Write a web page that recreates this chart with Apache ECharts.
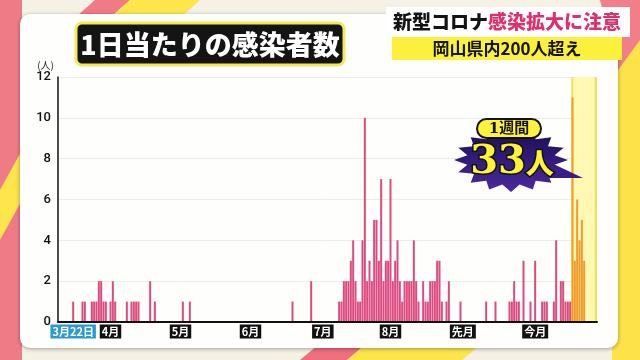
<!DOCTYPE html>
<html><head><meta charset="utf-8">
<script src="https://cdn.jsdelivr.net/npm/echarts@6/dist/echarts.min.js"></script>
<style>html,body{margin:0;padding:0;background:#f5f1e4}#c{width:640px;height:360px}</style>
</head><body><div id="c"></div>
<script>
// ---- data ----
const startYear = 2020, startMonth = 3, startDay = 16;   // first category (axis starts a few days before 3/22)
const dayCounts = [
  0,0,0,0,0,0,1,0,0,0, 1,1,0,0,1,1,1,2,2,1, 1,0,1,2,1,0,0,0,0,1,
  0,1,1,1,1,0,0,0,0,2, 0,1,0,0,0,0,0,0,0,0, 0,0,0,1,0,0,1,0,0,0,
  0,0,0,0,0,0,0,0,0,0, 0,0,0,0,0,0,0,0,0,0, 0,0,0,0,0,0,0,0,0,0,
  0,0,0,0,0,0,0,0,0,0, 1,0,0,0,0,0,0,0,2,0, 0,0,0,0,0,0,0,0,0,0,
  1,1,2,2,2,3,4,2,1,1, 4,10,2,3,2,5,5,3,7,2, 3,3,7,2,3,4,2,1,2,2,
  2,2,4,2,1,0,2,1,1,2, 2,2,3,3,1,0,1,2,0,0, 0,0,1,0,0,0,0,0,0,0,
  0,0,0,1,0,0,0,1,0,0, 0,0,0,1,1,2,1,1,0,3, 0,0,1,0,3,0,0,1,1,1,
  0,0,1,4,0,2,2,1,1,1, 11,3,6,4,5,3,0,0,0,0, 0
];
const weekStart = 220;          // first highlighted (orange) day
const bandStart = 220;          // yellow band start category index
const tickIndex = [6, 22, 52, 82, 113, 142, 173, 204];
const tickLabels = ['3月22日', '4月', '5月', '6月', '7月', '8月', '先月', '今月'];
const yMax = 12, yStep = 2;

// ---- build ----
const categories = dayCounts.map((_, i) => {
  const d = new Date(startYear, startMonth - 1, startDay + i);
  return (d.getMonth() + 1) + '/' + d.getDate();
});
const lastIdx = dayCounts.length - 1;
const barData = dayCounts.map((v, i) => ({
  value: v,
  itemStyle: { color: i >= weekStart ? '#f29a2c' : '#dc4a7e' }
}));
const bandData = dayCounts.map((_, i) => i < bandStart ? '-' : {
  value: yMax,
  itemStyle: { color: (i === bandStart || i === lastIdx) ? '#f3df58' : '#fff8ae' }
});

function starPts(cx, cy, rx, ry, n, inner) {
  const pts = [];
  for (let i = 0; i < n * 2; i++) {
    const a = Math.PI * i / n - Math.PI / 2;
    const f = i % 2 === 0 ? 1 : inner;
    pts.push([cx + Math.cos(a) * rx * f, cy + Math.sin(a) * ry * f]);
  }
  return pts;
}

const chart = echarts.init(document.getElementById('c'), null, { renderer: 'canvas' });
const JP = '"Noto Sans CJK JP", "Noto Sans", sans-serif';
const option = {
  animation: false,
  backgroundColor: '#f5f1e4',
  grid: { left: 58, right: 43, top: 77, bottom: 38 },
  xAxis: [{
    type: 'category',
    data: categories,
    boundaryGap: true,
    axisLine: { lineStyle: { color: '#111', width: 2 } },
    axisTick: { show: false },
    axisLabel: {
      interval: (idx) => tickIndex.indexOf(idx) >= 0,
      margin: 3,
      formatter: (val, idx) => {
        const k = tickIndex.indexOf(idx);
        if (k < 0) return '';
        return k === 0 ? '{d|' + tickLabels[k] + '}' : '{m|' + tickLabels[k] + '}';
      },
      rich: {
        m: { backgroundColor: '#111', color: '#fff', fontWeight: 'bold', fontSize: 11, fontFamily: JP, padding: [2, 2, 1, 2], lineHeight: 13 },
        d: { backgroundColor: '#2b9ad0', color: '#fff', fontWeight: 'bold', fontSize: 11, fontFamily: JP, padding: [2, 2, 1, 2], lineHeight: 13 }
      }
    },
    splitLine: { show: false },
    z: 5
  }, {
    type: 'category', data: categories, boundaryGap: true, show: false
  }],
  yAxis: {
    type: 'value', min: 0, max: yMax, interval: yStep,
    name: '(人)',
    nameLocation: 'end',
    nameGap: 7,
    nameTextStyle: { fontSize: 10, color: '#222', align: 'right', padding: [0, 4, 0, 0], fontFamily: JP },
    axisLine: { show: true, lineStyle: { color: '#111', width: 1.5 } },
    axisTick: { show: false },
    axisLabel: { fontSize: 13, color: '#111', margin: 7, fontFamily: 'Roboto, sans-serif', fontWeight: 500 },
    splitLine: { lineStyle: { color: '#ebebeb', width: 1 } }
  },
  series: [{
    type: 'bar',
    xAxisIndex: 1,
    data: bandData,
    barWidth: '100%',
    silent: true,
    z: 1
  }, {
    type: 'bar',
    xAxisIndex: 0,
    data: barData,
    barWidth: 2,
    z: 3
  }],
  graphic: [
    // outer decorations
    { type: 'polygon', z: -20, shape: { points: [[0,0],[22,0],[22,360],[0,360]] }, style: { fill: '#ef7b87' } },
    { type: 'polygon', z: -19, shape: { points: [[0,190],[22,150],[22,200],[0,240]] }, style: { fill: '#fde54c' } },
    { type: 'polygon', z: -20, shape: { points: [[612,0],[640,0],[640,360],[612,360]] }, style: { fill: '#fde24a' } },
    { type: 'polygon', z: -19, shape: { points: [[600,0],[640,0],[640,40],[618,70]] }, style: { fill: '#f27e8a' } },
    { type: 'polygon', z: -19, shape: { points: [[95,0],[130,0],[112,16],[77,16]] }, style: { fill: '#f07b87' } },
    { type: 'polygon', z: -19, shape: { points: [[130,0],[200,0],[182,16],[112,16]] }, style: { fill: '#fde54c' } },
    { type: 'polygon', z: -19, shape: { points: [[300,360],[318,345],[365,345],[347,360]] }, style: { fill: '#ef6f7f' } },
    { type: 'polygon', z: -19, shape: { points: [[347,360],[365,345],[480,345],[462,360]] }, style: { fill: '#fde54c' } },
    // panel
    { type: 'rect', z: -10, shape: { x: 20, y: 14, width: 598, height: 334, r: 10 },
      style: { fill: '#fefefc', shadowBlur: 4, shadowColor: 'rgba(0,0,0,0.35)', shadowOffsetY: 1 } },
    // title box
    { type: 'rect', z: 50, shape: { x: 76, y: 23, width: 268, height: 42, r: 6 },
      style: { fill: '#141414', stroke: '#f5ea55', lineWidth: 3 } },
    { type: 'text', z: 51, style: { x: 210, y: 45, text: '1日当たりの感染者数', fill: '#fff',
      font: '900 27px ' + JP, align: 'center', verticalAlign: 'middle' } },
    // top-right headline
    { type: 'rect', z: 50, shape: { x: 386, y: 7, width: 244, height: 30 }, style: { fill: '#ffffff' } },
    { type: 'text', z: 51, style: { x: 393, y: 22, text: '{k|新型コロナ}{r|感染拡大に注意}', align: 'left', verticalAlign: 'middle',
      rich: { k: { fill: '#141414', font: '900 19px ' + JP }, r: { fill: '#e0306c', font: '900 19px ' + JP } } } },
    { type: 'rect', z: 50, shape: { x: 392, y: 37, width: 230, height: 23 }, style: { fill: '#fbf03c' } },
    { type: 'text', z: 51, style: { x: 507, y: 49, text: '岡山県内200人超え', fill: '#141414',
      font: 'bold 17px ' + JP, align: 'center', verticalAlign: 'middle' } },
    // callout
    { type: 'polygon', z: 60, shape: { points: [[545,160],[583,178],[543,178]] }, style: { fill: '#3a1e88' } },
    { type: 'polygon', z: 60, shape: { points: starPts(511, 160, 57, 32, 16, 0.78) },
      style: { fill: { type: 'linear', x: 0, y: 0, x2: 0, y2: 1, colorStops: [{ offset: 0, color: '#1a0d55' }, { offset: 1, color: '#4a2a9e' }] } } },
    { type: 'rect', z: 61, shape: { x: 477, y: 119, width: 64, height: 19, r: 9.5 },
      style: { fill: '#fff23a', stroke: '#111', lineWidth: 2 } },
    { type: 'text', z: 62, style: { x: 509, y: 129, text: '1週間', fill: '#111',
      font: 'bold 15px "DejaVu Serif", ' + JP, align: 'center', verticalAlign: 'middle' } },
    { type: 'text', z: 62, style: { x: 512, y: 163, text: '{a|33}{b|人}', align: 'center', verticalAlign: 'middle',
      rich: {
        a: { fill: '#fff23a', stroke: '#111', lineWidth: 3, font: 'bold 40px "DejaVu Serif", serif' },
        b: { fill: '#fff23a', stroke: '#111', lineWidth: 3, font: '900 28px ' + JP }
      } } }
  ]
};
chart.setOption(option);
</script>
</body></html>
